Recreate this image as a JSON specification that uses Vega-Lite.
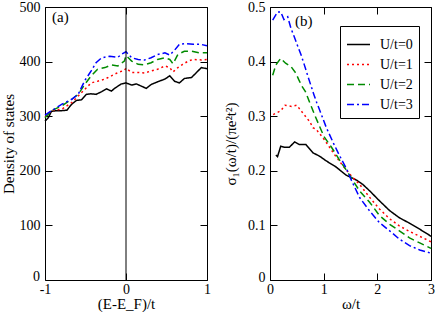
{
  "$schema": "https://vega.github.io/schema/vega-lite/v6.json",
  "background": "white",
  "padding": {"left": 0, "top": -1, "right": 0, "bottom": 0},
  "spacing": 12,
  "config": {
    "font": "Liberation Serif",
    "view": {"stroke": "black", "strokeWidth": 1},
    "axis": {
      "domain": false, "grid": false, "tickSize": -7, "tickColor": "black", "tickWidth": 1, "zindex": 1,
      "labelOverlap": false, "labelFlush": false,
      "labelFont": "Liberation Serif", "labelFontSize": 14, "labelColor": "black", "labelPadding": 12,
      "titleFont": "Liberation Serif", "titleFontSize": 15, "titleFontWeight": "normal", "titleColor": "black"
    },
    "axisX": {"labelPadding": 9, "titlePadding": 0},
    "axisY": {"titlePadding": 3},
    "legend": {
      "labelFont": "Liberation Serif", "labelFontSize": 14, "labelColor": "black"
    }
  },
  "datasets": {
    "dos": [
      {"E": -1, "D": 291, "U": "U/t=0"}, {"E": -0.96, "D": 297, "U": "U/t=0"}, {"E": -0.92, "D": 309, "U": "U/t=0"}, {"E": -0.86, "D": 310, "U": "U/t=0"}, {"E": -0.8, "D": 310, "U": "U/t=0"}, {"E": -0.73, "D": 311, "U": "U/t=0"}, {"E": -0.67, "D": 322, "U": "U/t=0"}, {"E": -0.61, "D": 329, "U": "U/t=0"}, {"E": -0.55, "D": 330, "U": "U/t=0"}, {"E": -0.49, "D": 340, "U": "U/t=0"}, {"E": -0.43, "D": 341, "U": "U/t=0"}, {"E": -0.37, "D": 340, "U": "U/t=0"}, {"E": -0.3, "D": 345, "U": "U/t=0"}, {"E": -0.24, "D": 350, "U": "U/t=0"}, {"E": -0.18, "D": 346, "U": "U/t=0"}, {"E": -0.14, "D": 351, "U": "U/t=0"}, {"E": -0.06, "D": 359, "U": "U/t=0"}, {"E": 0, "D": 361, "U": "U/t=0"}, {"E": 0.07, "D": 357, "U": "U/t=0"}, {"E": 0.13, "D": 359, "U": "U/t=0"}, {"E": 0.19, "D": 355, "U": "U/t=0"}, {"E": 0.25, "D": 351, "U": "U/t=0"}, {"E": 0.31, "D": 358, "U": "U/t=0"}, {"E": 0.39, "D": 363, "U": "U/t=0"}, {"E": 0.48, "D": 368, "U": "U/t=0"}, {"E": 0.54, "D": 374, "U": "U/t=0"}, {"E": 0.6, "D": 364, "U": "U/t=0"}, {"E": 0.66, "D": 361, "U": "U/t=0"}, {"E": 0.72, "D": 369, "U": "U/t=0"}, {"E": 0.81, "D": 371, "U": "U/t=0"}, {"E": 0.87, "D": 380, "U": "U/t=0"}, {"E": 0.93, "D": 389, "U": "U/t=0"}, {"E": 1, "D": 387, "U": "U/t=0"},
      {"E": -1, "D": 299, "U": "U/t=1"}, {"E": -0.92, "D": 310, "U": "U/t=1"}, {"E": -0.79, "D": 313, "U": "U/t=1"}, {"E": -0.67, "D": 325, "U": "U/t=1"}, {"E": -0.59, "D": 337, "U": "U/t=1"}, {"E": -0.51, "D": 349, "U": "U/t=1"}, {"E": -0.43, "D": 361, "U": "U/t=1"}, {"E": -0.35, "D": 364, "U": "U/t=1"}, {"E": -0.26, "D": 368, "U": "U/t=1"}, {"E": -0.18, "D": 374, "U": "U/t=1"}, {"E": -0.1, "D": 380, "U": "U/t=1"}, {"E": -0.02, "D": 384, "U": "U/t=1"}, {"E": 0, "D": 388, "U": "U/t=1"}, {"E": 0.07, "D": 380, "U": "U/t=1"}, {"E": 0.15, "D": 380, "U": "U/t=1"}, {"E": 0.23, "D": 379, "U": "U/t=1"}, {"E": 0.31, "D": 383, "U": "U/t=1"}, {"E": 0.39, "D": 386, "U": "U/t=1"}, {"E": 0.48, "D": 392, "U": "U/t=1"}, {"E": 0.54, "D": 389, "U": "U/t=1"}, {"E": 0.58, "D": 381, "U": "U/t=1"}, {"E": 0.64, "D": 389, "U": "U/t=1"}, {"E": 0.7, "D": 395, "U": "U/t=1"}, {"E": 0.77, "D": 401, "U": "U/t=1"}, {"E": 0.83, "D": 404, "U": "U/t=1"}, {"E": 0.93, "D": 403, "U": "U/t=1"}, {"E": 1, "D": 404, "U": "U/t=1"},
      {"E": -1, "D": 297, "U": "U/t=2"}, {"E": -0.92, "D": 310, "U": "U/t=2"}, {"E": -0.79, "D": 319, "U": "U/t=2"}, {"E": -0.67, "D": 331, "U": "U/t=2"}, {"E": -0.59, "D": 340, "U": "U/t=2"}, {"E": -0.51, "D": 358, "U": "U/t=2"}, {"E": -0.43, "D": 374, "U": "U/t=2"}, {"E": -0.35, "D": 386, "U": "U/t=2"}, {"E": -0.26, "D": 389, "U": "U/t=2"}, {"E": -0.18, "D": 394, "U": "U/t=2"}, {"E": -0.1, "D": 392, "U": "U/t=2"}, {"E": -0.02, "D": 401, "U": "U/t=2"}, {"E": 0, "D": 411, "U": "U/t=2"}, {"E": 0.07, "D": 401, "U": "U/t=2"}, {"E": 0.15, "D": 395, "U": "U/t=2"}, {"E": 0.23, "D": 394, "U": "U/t=2"}, {"E": 0.31, "D": 398, "U": "U/t=2"}, {"E": 0.39, "D": 404, "U": "U/t=2"}, {"E": 0.48, "D": 407, "U": "U/t=2"}, {"E": 0.54, "D": 404, "U": "U/t=2"}, {"E": 0.58, "D": 396, "U": "U/t=2"}, {"E": 0.64, "D": 413, "U": "U/t=2"}, {"E": 0.72, "D": 419, "U": "U/t=2"}, {"E": 0.81, "D": 419, "U": "U/t=2"}, {"E": 0.91, "D": 416, "U": "U/t=2"}, {"E": 1, "D": 416, "U": "U/t=2"},
      {"E": -1, "D": 302, "U": "U/t=3"}, {"E": -0.92, "D": 310, "U": "U/t=3"}, {"E": -0.79, "D": 322, "U": "U/t=3"}, {"E": -0.67, "D": 331, "U": "U/t=3"}, {"E": -0.59, "D": 340, "U": "U/t=3"}, {"E": -0.51, "D": 365, "U": "U/t=3"}, {"E": -0.43, "D": 383, "U": "U/t=3"}, {"E": -0.37, "D": 398, "U": "U/t=3"}, {"E": -0.3, "D": 407, "U": "U/t=3"}, {"E": -0.2, "D": 410, "U": "U/t=3"}, {"E": -0.1, "D": 408, "U": "U/t=3"}, {"E": -0.05, "D": 414, "U": "U/t=3"}, {"E": 0, "D": 418, "U": "U/t=3"}, {"E": 0.07, "D": 407, "U": "U/t=3"}, {"E": 0.15, "D": 404, "U": "U/t=3"}, {"E": 0.23, "D": 403, "U": "U/t=3"}, {"E": 0.31, "D": 407, "U": "U/t=3"}, {"E": 0.39, "D": 413, "U": "U/t=3"}, {"E": 0.48, "D": 416, "U": "U/t=3"}, {"E": 0.54, "D": 412, "U": "U/t=3"}, {"E": 0.6, "D": 421, "U": "U/t=3"}, {"E": 0.66, "D": 432, "U": "U/t=3"}, {"E": 0.74, "D": 433, "U": "U/t=3"}, {"E": 0.83, "D": 432, "U": "U/t=3"}, {"E": 0.91, "D": 432, "U": "U/t=3"}, {"E": 1, "D": 429, "U": "U/t=3"}
    ],
    "sigma": [
      {"w": 0.11, "s": 0.229, "U": "U/t=0"}, {"w": 0.14, "s": 0.226, "U": "U/t=0"}, {"w": 0.2, "s": 0.245, "U": "U/t=0"}, {"w": 0.27, "s": 0.243, "U": "U/t=0"}, {"w": 0.36, "s": 0.243, "U": "U/t=0"}, {"w": 0.46, "s": 0.253, "U": "U/t=0"}, {"w": 0.55, "s": 0.248, "U": "U/t=0"}, {"w": 0.67, "s": 0.248, "U": "U/t=0"}, {"w": 0.8, "s": 0.233, "U": "U/t=0"}, {"w": 0.92, "s": 0.227, "U": "U/t=0"}, {"w": 1.05, "s": 0.218, "U": "U/t=0"}, {"w": 1.23, "s": 0.207, "U": "U/t=0"}, {"w": 1.42, "s": 0.192, "U": "U/t=0"}, {"w": 1.61, "s": 0.183, "U": "U/t=0"}, {"w": 1.73, "s": 0.175, "U": "U/t=0"}, {"w": 1.86, "s": 0.163, "U": "U/t=0"}, {"w": 2.04, "s": 0.145, "U": "U/t=0"}, {"w": 2.23, "s": 0.127, "U": "U/t=0"}, {"w": 2.41, "s": 0.114, "U": "U/t=0"}, {"w": 2.6, "s": 0.104, "U": "U/t=0"}, {"w": 2.79, "s": 0.093, "U": "U/t=0"}, {"w": 2.97, "s": 0.082, "U": "U/t=0"}, {"w": 3, "s": 0.08, "U": "U/t=0"},
      {"w": 0.06, "s": 0.303, "U": "U/t=1"}, {"w": 0.2, "s": 0.31, "U": "U/t=1"}, {"w": 0.28, "s": 0.32, "U": "U/t=1"}, {"w": 0.4, "s": 0.318, "U": "U/t=1"}, {"w": 0.5, "s": 0.32, "U": "U/t=1"}, {"w": 0.61, "s": 0.306, "U": "U/t=1"}, {"w": 0.74, "s": 0.29, "U": "U/t=1"}, {"w": 0.8, "s": 0.279, "U": "U/t=1"}, {"w": 0.86, "s": 0.276, "U": "U/t=1"}, {"w": 0.99, "s": 0.26, "U": "U/t=1"}, {"w": 1.11, "s": 0.243, "U": "U/t=1"}, {"w": 1.2, "s": 0.23, "U": "U/t=1"}, {"w": 1.36, "s": 0.209, "U": "U/t=1"}, {"w": 1.52, "s": 0.19, "U": "U/t=1"}, {"w": 1.67, "s": 0.175, "U": "U/t=1"}, {"w": 1.86, "s": 0.151, "U": "U/t=1"}, {"w": 2.04, "s": 0.13, "U": "U/t=1"}, {"w": 2.23, "s": 0.112, "U": "U/t=1"}, {"w": 2.41, "s": 0.099, "U": "U/t=1"}, {"w": 2.6, "s": 0.089, "U": "U/t=1"}, {"w": 2.79, "s": 0.08, "U": "U/t=1"}, {"w": 3, "s": 0.07, "U": "U/t=1"},
      {"w": 0.05, "s": 0.375, "U": "U/t=2"}, {"w": 0.11, "s": 0.394, "U": "U/t=2"}, {"w": 0.2, "s": 0.406, "U": "U/t=2"}, {"w": 0.29, "s": 0.397, "U": "U/t=2"}, {"w": 0.39, "s": 0.391, "U": "U/t=2"}, {"w": 0.48, "s": 0.379, "U": "U/t=2"}, {"w": 0.54, "s": 0.366, "U": "U/t=2"}, {"w": 0.6, "s": 0.354, "U": "U/t=2"}, {"w": 0.66, "s": 0.345, "U": "U/t=2"}, {"w": 0.74, "s": 0.325, "U": "U/t=2"}, {"w": 0.83, "s": 0.303, "U": "U/t=2"}, {"w": 0.92, "s": 0.282, "U": "U/t=2"}, {"w": 1.01, "s": 0.262, "U": "U/t=2"}, {"w": 1.14, "s": 0.244, "U": "U/t=2"}, {"w": 1.23, "s": 0.23, "U": "U/t=2"}, {"w": 1.32, "s": 0.216, "U": "U/t=2"}, {"w": 1.45, "s": 0.197, "U": "U/t=2"}, {"w": 1.67, "s": 0.163, "U": "U/t=2"}, {"w": 1.86, "s": 0.142, "U": "U/t=2"}, {"w": 2.04, "s": 0.118, "U": "U/t=2"}, {"w": 2.23, "s": 0.102, "U": "U/t=2"}, {"w": 2.41, "s": 0.09, "U": "U/t=2"}, {"w": 2.6, "s": 0.077, "U": "U/t=2"}, {"w": 2.79, "s": 0.068, "U": "U/t=2"}, {"w": 3, "s": 0.058, "U": "U/t=2"},
      {"w": 0.05, "s": 0.476, "U": "U/t=3"}, {"w": 0.14, "s": 0.491, "U": "U/t=3"}, {"w": 0.2, "s": 0.491, "U": "U/t=3"}, {"w": 0.26, "s": 0.477, "U": "U/t=3"}, {"w": 0.33, "s": 0.482, "U": "U/t=3"}, {"w": 0.39, "s": 0.461, "U": "U/t=3"}, {"w": 0.45, "s": 0.446, "U": "U/t=3"}, {"w": 0.51, "s": 0.43, "U": "U/t=3"}, {"w": 0.58, "s": 0.412, "U": "U/t=3"}, {"w": 0.64, "s": 0.394, "U": "U/t=3"}, {"w": 0.7, "s": 0.375, "U": "U/t=3"}, {"w": 0.76, "s": 0.357, "U": "U/t=3"}, {"w": 0.82, "s": 0.339, "U": "U/t=3"}, {"w": 0.87, "s": 0.325, "U": "U/t=3"}, {"w": 0.93, "s": 0.31, "U": "U/t=3"}, {"w": 1.05, "s": 0.279, "U": "U/t=3"}, {"w": 1.18, "s": 0.251, "U": "U/t=3"}, {"w": 1.3, "s": 0.227, "U": "U/t=3"}, {"w": 1.43, "s": 0.203, "U": "U/t=3"}, {"w": 1.52, "s": 0.182, "U": "U/t=3"}, {"w": 1.67, "s": 0.151, "U": "U/t=3"}, {"w": 1.86, "s": 0.126, "U": "U/t=3"}, {"w": 2.04, "s": 0.105, "U": "U/t=3"}, {"w": 2.23, "s": 0.09, "U": "U/t=3"}, {"w": 2.41, "s": 0.075, "U": "U/t=3"}, {"w": 2.6, "s": 0.063, "U": "U/t=3"}, {"w": 2.79, "s": 0.055, "U": "U/t=3"}, {"w": 3, "s": 0.049, "U": "U/t=3"}
    ]
  },
  "resolve": {"scale": {"color": "independent", "strokeDash": "independent"}, "legend": {"color": "independent", "strokeDash": "independent"}},
  "hconcat": [
    {
      "width": 162, "height": 273,
      "resolve": {"axis": {"x": "independent", "y": "independent"}},
      "layer": [
        {
          "data": {"name": "dos"},
          "mark": {"type": "line", "strokeWidth": 1.5},
          "encoding": {
            "x": {"field": "E", "type": "quantitative", "scale": {"domain": [-1, 1], "nice": false},
                  "axis": {"orient": "bottom", "values": [-1, 0, 1], "labelOverlap": false, "labelFlush": false, "title": "(E-E_F)/t", "labelExpr": "datum.value < 0 ? '-' + format(-datum.value, 'd') : format(datum.value, 'd')"}},
            "y": {"field": "D", "type": "quantitative", "scale": {"domain": [0, 500], "nice": false},
                  "axis": {"orient": "left", "values": [100, 200, 300, 400, 500], "labelOverlap": false, "labelExpr": "format(datum.value, 'd')", "title": "Density of states"}},
            "color": {"field": "U", "type": "nominal", "scale": {"domain": ["U/t=0", "U/t=1", "U/t=2", "U/t=3"], "range": ["#000000", "#ff0000", "#008b00", "#0000ff"]}, "legend": null},
            "strokeDash": {"field": "U", "type": "nominal", "scale": {"domain": ["U/t=0", "U/t=1", "U/t=2", "U/t=3"], "range": [[1, 0], [2, 3], [7, 4], [7, 3, 2, 3]]}, "legend": null}
          }
        },
        {
          "data": {"values": [{}]},
          "mark": {"type": "rule", "color": "black", "strokeWidth": 1},
          "encoding": {
            "x": {"datum": 0, "type": "quantitative", "axis": {"orient": "top", "values": [-1, 0, 1], "labels": false, "title": null}}
          }
        },
        {
          "data": {"values": [{}]},
          "mark": {"type": "text", "text": "(a)", "font": "Liberation Serif", "fontSize": 15, "color": "black", "align": "center", "baseline": "middle"},
          "encoding": {
            "x": {"datum": -0.81, "type": "quantitative", "axis": null},
            "y": {"datum": 482, "type": "quantitative", "axis": {"orient": "right", "values": [0, 100, 200, 300, 400, 500], "labels": false, "title": null}}
          }
        },
        {
          "data": {"values": [{"lbl": "0", "v": 0, "e": -1}]},
          "mark": {"type": "text", "font": "Liberation Serif", "fontSize": 14, "color": "black", "align": "right", "baseline": "bottom", "dx": -5, "dy": 4, "clip": false},
          "encoding": {
            "text": {"field": "lbl", "type": "nominal"},
            "x": {"field": "e", "type": "quantitative", "axis": null},
            "y": {"field": "v", "type": "quantitative", "axis": null}
          }
        }
      ]
    },
    {
      "width": 161, "height": 273,
      "resolve": {"axis": {"x": "independent", "y": "independent"}},
      "layer": [
        {
          "data": {"name": "sigma"},
          "mark": {"type": "line", "strokeWidth": 1.5},
          "encoding": {
            "x": {"field": "w", "type": "quantitative", "scale": {"domain": [0, 3], "nice": false},
                  "axis": {"orient": "bottom", "values": [0, 1, 2, 3], "labelOverlap": false, "labelFlush": false, "labelExpr": "format(datum.value, 'd')", "title": "ω/t"}},
            "y": {"field": "s", "type": "quantitative", "scale": {"domain": [0, 0.5], "nice": false},
                  "axis": {"orient": "left", "values": [0, 0.1, 0.2, 0.3, 0.4, 0.5], "labelOverlap": false, "labelExpr": "datum.value < 0.05 ? '0' : format(datum.value, '.1f')",
                           "labelBaseline": {"condition": {"test": "datum.value < 0.05", "value": "bottom"}, "value": "middle"},
                           "labelOffset": {"condition": {"test": "datum.value < 0.05", "value": 4}, "value": 0},
                           "title": "σ₁(ω/t)/(πe²t²)", "titlePadding": 9}},
            "color": {"field": "U", "type": "nominal", "scale": {"domain": ["U/t=0", "U/t=1", "U/t=2", "U/t=3"], "range": ["#000000", "#ff0000", "#008b00", "#0000ff"]},
                      "legend": {"orient": "none", "legendX": 70, "legendY": 19, "title": null, "strokeColor": "black", "padding": 6, "rowPadding": -2, "symbolType": "stroke", "symbolSize": 529, "symbolStrokeWidth": 1.5, "labelOffset": 9}},
            "strokeDash": {"field": "U", "type": "nominal", "scale": {"domain": ["U/t=0", "U/t=1", "U/t=2", "U/t=3"], "range": [[1, 0], [2, 3], [7, 4], [7, 3, 2, 3]]},
                      "legend": {"orient": "none", "legendX": 70, "legendY": 19, "title": null, "strokeColor": "black", "padding": 6, "rowPadding": -2, "symbolType": "stroke", "symbolSize": 529, "symbolStrokeWidth": 1.5, "labelOffset": 9}}
          }
        },
        {
          "data": {"values": [{}]},
          "mark": {"type": "text", "text": "(b)", "font": "Liberation Serif", "fontSize": 15, "color": "black", "align": "center", "baseline": "middle"},
          "encoding": {
            "x": {"datum": 0.63, "type": "quantitative", "axis": {"orient": "top", "values": [0, 1, 2, 3], "labels": false, "title": null}},
            "y": {"datum": 0.475, "type": "quantitative", "axis": {"orient": "right", "values": [0, 0.1, 0.2, 0.3, 0.4, 0.5], "labels": false, "title": null}}
          }
        }
      ]
    }
  ]
}
